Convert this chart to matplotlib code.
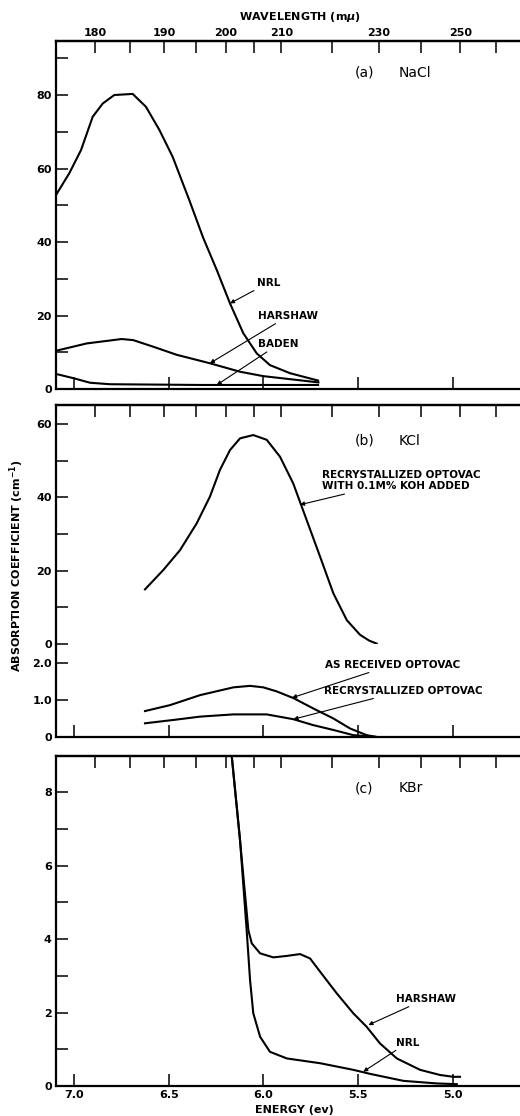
"""Absorption spectra of NaCl, KCl and KBr (three stacked panels)"""

import matplotlib
matplotlib.use("Agg")
import matplotlib.pyplot as plt
import numpy as np

plt.rcParams["font.family"] = ["DejaVu Sans"]
plt.rcParams["font.weight"] = "bold"

HC = 1239.84  # eV * nm

# ---- (a) NaCl ----
nacl_nrl_e = [7.095, 7.025, 6.963, 6.901, 6.848, 6.787, 6.690, 6.620, 6.549, 6.479,
              6.391, 6.318, 6.246, 6.176, 6.106, 6.035, 5.965, 5.859, 5.711]
nacl_nrl_k = [52.8, 58.7, 65.0, 74.1, 77.7, 80.0, 80.3, 76.8, 70.5, 63.2,
              51.4, 41.2, 32.4, 23.3, 15.2, 9.7, 6.5, 4.3, 2.3]
nacl_harshaw_e = [7.095, 6.933, 6.748, 6.687, 6.581, 6.457, 6.282, 6.123, 6.000, 5.709]
nacl_harshaw_k = [10.4, 12.4, 13.6, 13.3, 11.5, 9.3, 7.0, 4.7, 3.5, 1.8]
nacl_baden_e = [7.095, 7.000, 6.915, 6.810, 6.334, 5.711]
nacl_baden_k = [4.1, 2.9, 1.7, 1.3, 1.1, 1.1]

# ---- (b) KCl ----
kcl_koh_e = [6.625, 6.528, 6.440, 6.352, 6.282, 6.229, 6.176, 6.123, 6.053, 5.982,
             5.912, 5.842, 5.771, 5.700, 5.630, 5.559, 5.489, 5.440, 5.401]
kcl_koh_k = [14.9, 20.2, 25.6, 32.9, 40.2, 47.5, 52.9, 56.1, 57.0, 55.7,
             51.1, 43.8, 33.8, 23.8, 13.8, 6.5, 2.5, 0.9, 0.1]
kcl_asrec_e = [6.625, 6.493, 6.334, 6.158, 6.070, 6.000, 5.929, 5.841, 5.736, 5.630,
               5.542, 5.454, 5.401]
kcl_asrec_k = [0.70, 0.86, 1.13, 1.34, 1.38, 1.34, 1.23, 1.05, 0.77, 0.50,
               0.23, 0.05, 0.0]
kcl_recr_e = [6.625, 6.475, 6.334, 6.158, 5.982, 5.841, 5.736, 5.630, 5.525, 5.401]
kcl_recr_k = [0.37, 0.46, 0.55, 0.61, 0.61, 0.48, 0.32, 0.19, 0.05, 0.0]

# ---- (c) KBr ----
kbr_harshaw_e = [6.172, 6.167, 6.123, 6.079, 6.061, 6.017, 5.947, 5.876, 5.806, 5.753,
                 5.700, 5.612, 5.525, 5.454, 5.384, 5.295, 5.172, 5.067, 4.996, 4.961]
kbr_harshaw_k = [9.5, 8.99, 6.69, 4.24, 3.88, 3.61, 3.50, 3.54, 3.59, 3.47,
                 3.11, 2.52, 1.98, 1.61, 1.16, 0.75, 0.44, 0.30, 0.25, 0.25]
kbr_nrl_e = [6.172, 6.167, 6.123, 6.088, 6.070, 6.053, 6.017, 5.965, 5.876, 5.700,
             5.525, 5.436, 5.260, 5.084, 4.978]
kbr_nrl_k = [9.5, 8.99, 6.69, 4.24, 2.88, 1.98, 1.34, 0.93, 0.75, 0.62,
             0.44, 0.33, 0.14, 0.07, 0.05]

energy_ticks = [7.0, 6.5, 6.0, 5.5, 5.0]
wl_major = [180, 190, 200, 210, 230, 250]
wl_minor = [185, 195, 205, 220, 240, 260]

XLIM = (7.095, 4.639)
LW = 1.5
TICK = dict(direction="in", length=8.5, width=1.1, labelsize=8, pad=3)
TXT = 7.5


def e2w(e):
    e = np.asarray(e, dtype=float)
    with np.errstate(divide="ignore"):
        return HC / e


def style(ax, bottom_labels=False):
    ax.set_xlim(*XLIM)
    ax.set_xticks(energy_ticks)
    if bottom_labels:
        ax.set_xticklabels([f"{t:.1f}" for t in energy_ticks])
    else:
        ax.set_xticklabels([])
    ax.tick_params(axis="both", which="both", **TICK)
    ax.spines["right"].set_visible(False)
    for s in ("left", "top", "bottom"):
        ax.spines[s].set_linewidth(1.6)


def top_wavelength(ax, labels=False):
    sec = ax.secondary_xaxis("top", functions=(e2w, e2w))
    sec.set_xticks(wl_major)
    sec.set_xticks(wl_minor, minor=True)
    if not labels:
        sec.set_xticklabels([])
    sec.tick_params(axis="x", which="both", direction="in", length=8.5, width=1.1,
                    labelsize=8, pad=2)
    sec.spines["top"].set_linewidth(1.6)
    return sec


def note(ax, text, xy, xytext):
    ax.annotate(text, xy=xy, xytext=xytext, fontsize=TXT, ha="left", va="center",
                arrowprops=dict(arrowstyle="-|>", color="black", lw=0.8,
                                mutation_scale=6, shrinkA=0, shrinkB=0))


fig = plt.figure(figsize=(5.2, 11.16), dpi=100)
L, W = 56 / 520, 465 / 520

# (a) NaCl
ax_a = fig.add_axes([L, 727 / 1116, W, 348 / 1116])
ax_a.plot(nacl_nrl_e, nacl_nrl_k, color="black", lw=LW)
ax_a.plot(nacl_harshaw_e, nacl_harshaw_k, color="black", lw=LW)
ax_a.plot(nacl_baden_e, nacl_baden_k, color="black", lw=LW)
ax_a.set_ylim(0, 94.7)
ax_a.set_yticks([0, 20, 40, 60, 80])
ax_a.set_yticks([10, 30, 50, 70, 90], minor=True)
style(ax_a)
top_wavelength(ax_a, labels=True)
note(ax_a, "NRL", (6.176, 23.3), (6.035, 28.9))
note(ax_a, "HARSHAW", (6.282, 7.0), (6.026, 19.9))
note(ax_a, "BADEN", (6.246, 1.1), (6.026, 12.2))
ax_a.text(5.516, 86, "(a)", fontsize=10, fontweight="normal", ha="left", va="center")
ax_a.text(5.283, 86, "NaCl", fontsize=10, fontweight="normal", ha="left", va="center")

# (b) KCl, split scale
ax_bt = fig.add_axes([L, 472 / 1116, W, 239 / 1116])
ax_bb = fig.add_axes([L, 379 / 1116, W, 93 / 1116])
ax_bt.plot(kcl_koh_e, kcl_koh_k, color="black", lw=LW)
ax_bt.set_ylim(0, 65.2)
ax_bt.set_yticks([0, 20, 40, 60])
ax_bt.set_yticks([10, 30, 50], minor=True)
style(ax_bt)
ax_bt.spines["bottom"].set_visible(False)
ax_bt.tick_params(axis="x", which="both", bottom=False)
top_wavelength(ax_bt)
note(ax_bt, "RECRYSTALLIZED OPTOVAC\nWITH 0.1M% KOH ADDED", (5.806, 38.0), (5.690, 44.6))
ax_bt.text(5.516, 55.4, "(b)", fontsize=10, fontweight="normal", ha="left", va="center")
ax_bt.text(5.283, 55.4, "KCl", fontsize=10, fontweight="normal", ha="left", va="center")

ax_bb.plot(kcl_asrec_e, kcl_asrec_k, color="black", lw=LW)
ax_bb.plot(kcl_recr_e, kcl_recr_k, color="black", lw=LW)
ax_bb.set_ylim(0, 2.51)
ax_bb.set_yticks([0, 1, 2])
ax_bb.set_yticklabels(["0", "1.0", "2.0"])
style(ax_bb)
ax_bb.spines["top"].set_visible(False)
ax_bb.patch.set_alpha(0)
note(ax_bb, "AS RECEIVED OPTOVAC", (5.848, 1.06), (5.674, 1.95))
note(ax_bb, "RECRYSTALLIZED OPTOVAC", (5.841, 0.48), (5.679, 1.25))

# (c) KBr
ax_c = fig.add_axes([L, 30 / 1116, W, 330 / 1116])
ax_c.plot(kbr_harshaw_e, kbr_harshaw_k, color="black", lw=LW)
ax_c.plot(kbr_nrl_e, kbr_nrl_k, color="black", lw=LW)
ax_c.set_ylim(0, 8.98)
ax_c.set_yticks([0, 2, 4, 6, 8])
ax_c.set_yticks([1, 3, 5, 7], minor=True)
style(ax_c, bottom_labels=True)
top_wavelength(ax_c)
note(ax_c, "HARSHAW", (5.445, 1.66), (5.299, 2.37))
note(ax_c, "NRL", (5.472, 0.39), (5.299, 1.18))
ax_c.text(5.516, 8.1, "(c)", fontsize=10, fontweight="normal", ha="left", va="center")
ax_c.text(5.283, 8.1, "KBr", fontsize=10, fontweight="normal", ha="left", va="center")

fig.text(300 / 520, 1 - 17 / 1116, "WAVELENGTH (m$\\mu$)", fontsize=8, ha="center", va="center")
fig.text(294 / 520, 1 - 1110 / 1116, "ENERGY (ev)", fontsize=8, ha="center", va="center")
fig.text(17 / 520, 1 - 566 / 1116, "ABSORPTION COEFFICIENT (cm$^{-1}$)", fontsize=8,
         rotation=90, ha="center", va="center")

fig.savefig("out.png", dpi=100)
plt.close(fig)
